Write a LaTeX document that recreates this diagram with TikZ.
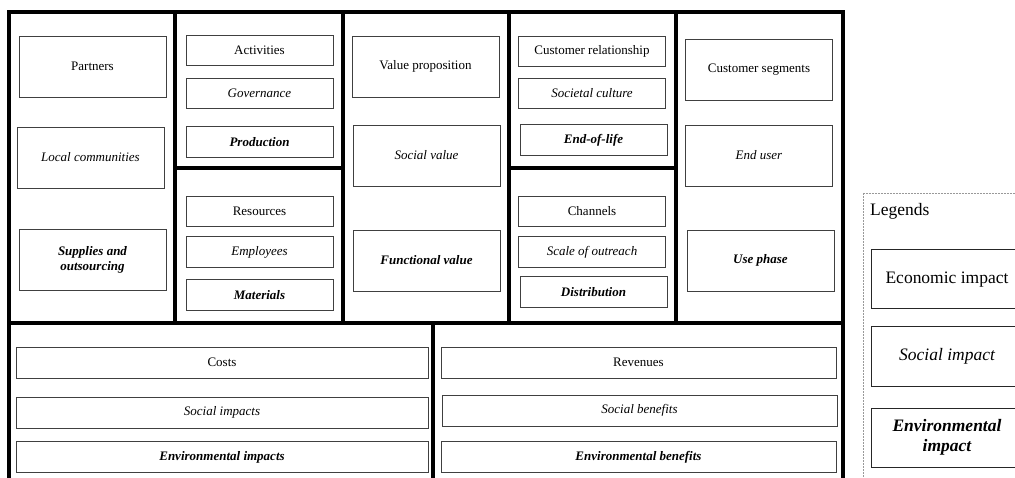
\documentclass[tikz,border=0pt]{standalone}
\usepackage{fontspec}
\setmainfont{Liberation Serif}
\begin{document}
\begin{tikzpicture}[x=1pt,y=-1pt,
  frame/.style={line width=3.2pt, line cap=rect},
  cell/.style={draw=black!75, line width=0.95pt, inner sep=0pt, align=center,
    font=\fontsize{13}{15}\selectfont},
  tall/.style={cell, minimum width=147pt, minimum height=61pt},
  short/.style={cell, minimum width=147pt, minimum height=30.5pt},
  wideL/.style={cell, minimum width=412pt, minimum height=31pt},
  wideR/.style={cell, minimum width=395pt, minimum height=31pt},
  leg/.style={draw=black!85, line width=1pt, inner sep=0pt, align=center,
    minimum width=152pt, minimum height=59pt, font=\fontsize{17.5}{20}\selectfont},
  soc/.style={font=\fontsize{13}{15}\selectfont\itshape},
  env/.style={font=\fontsize{13}{15}\selectfont\bfseries\itshape}]
\clip (0,0) rectangle (1015,478);
\fill[white] (0,0) rectangle (1015,478);
% frame
\draw[frame] (9,12) rectangle (843,323);
\foreach \xx in {175,343,509,676} \draw[frame] (\xx,12) -- (\xx,323);
\draw[frame] (175,168) -- (343,168);
\draw[frame] (509,168) -- (676,168);
\draw[frame] (9,323) -- (9,490);
\draw[frame] (843,323) -- (843,490);
\draw[frame] (433,323) -- (433,490);
% column 1
\node[tall] (partners) at (92.5,66.5) {Partners};
\node[tall,soc] (local) at (90.5,157.5) {Local communities};
\node[tall,env] (supplies) at (92.5,259.5) {Supplies and\\outsourcing};
% column 2
\node[short] (activities) at (259.5,50.5) {Activities};
\node[short,soc] (governance) at (259.5,93.5) {Governance};
\node[short,env] (production) at (259.5,142) {Production};
\node[short] (resources) at (259.5,211.5) {Resources};
\node[short,soc] (employees) at (259.5,252) {Employees};
\node[short,env] (materials) at (259.5,295) {Materials};
% column 3
\node[tall] (valueprop) at (425.5,66.5) {Value proposition};
\node[tall,soc] (socialvalue) at (426.5,155.5) {Social value};
\node[tall,env] (functional) at (426.5,260.5) {Functional value};
% column 4
\node[short] (custrel) at (592,51.5) {Customer relationship};
\node[short,soc] (societal) at (592,93.5) {Societal culture};
\node[short,env] (endoflife) at (593.5,140) {End-of-life};
\node[short] (channels) at (592,211.5) {Channels};
\node[short,soc] (outreach) at (592,252) {Scale of outreach};
\node[short,env] (distribution) at (593.5,292) {Distribution};
% column 5
\node[tall] (segments) at (759,69.5) {Customer segments};
\node[tall,soc] (enduser) at (759,155.5) {End user};
\node[tall,env] (usephase) at (760.5,260.5) {Use phase};
% bottom
\node[wideL] (costs) at (222,362.5) {Costs};
\node[wideL,soc] (socimp) at (222,412.5) {Social impacts};
\node[wideL,env] (envimp) at (222,457) {Environmental impacts};
\node[wideR] (revenues) at (638.5,362.5) {Revenues};
\node[wideR,soc] (socben) at (639.5,410.5) {Social benefits};
\node[wideR,env] (envben) at (638.5,457) {Environmental benefits};
% legend
\draw[gray!80, line width=0.8pt, dash pattern=on 2pt off 1pt] (863,193) rectangle (1040,500);
\node[anchor=west, inner sep=0pt, font=\fontsize{17.5}{20}\selectfont] (legtitle) at (870,211) {Legends};
\node[leg] (econ) at (947,279.5) {Economic impact};
\node[leg, font=\fontsize{17.5}{20}\selectfont\itshape] (socleg) at (947,356.5) {Social impact};
\node[leg, font=\fontsize{17.5}{20}\selectfont\bfseries\itshape] (envleg) at (947,437.5) {Environmental\\impact};
\end{tikzpicture}
\end{document}
